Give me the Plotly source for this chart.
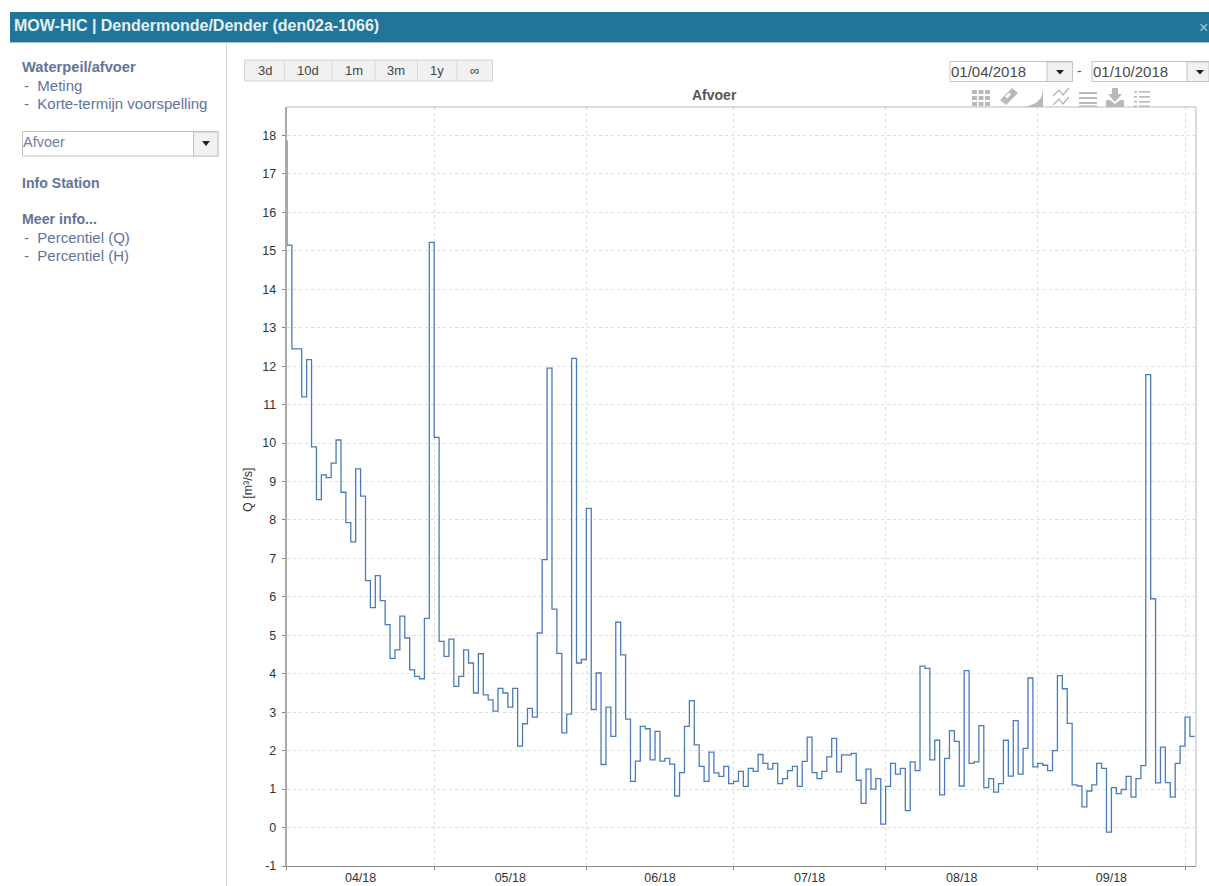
import pandas as pd
import plotly.graph_objects as go

W, H = 1209, 886
PX0, PX1, PY0, PY1 = 286.5, 1196.0, 107.0, 866.0

march = [17.85]
april = [15.15, 12.45, 12.45, 11.2, 12.17, 9.9, 8.53, 9.17, 9.1, 9.48, 10.08, 8.72, 7.93, 7.43, 9.33,
         8.62, 6.42, 5.72, 6.55, 5.9, 5.28, 4.4, 4.62, 5.5, 4.93, 4.1, 3.93, 3.87, 5.44, 15.22]
may = [10.15, 4.84, 4.45, 4.9, 3.67, 3.93, 4.62, 4.28, 3.5, 4.52, 3.45, 3.32, 3.03, 3.62, 3.5, 3.13,
       3.62, 2.12, 2.7, 3.1, 2.87, 5.06, 6.97, 11.95, 5.68, 4.53, 2.46, 2.95, 12.2, 4.28, 4.37]
june = [8.3, 3.07, 4.02, 1.64, 3.13, 2.37, 5.34, 4.49, 2.82, 1.2, 1.73, 2.63, 2.57, 1.76, 2.5, 1.73,
        1.8, 1.65, 0.82, 1.43, 2.63, 3.3, 2.15, 1.59, 1.2, 1.96, 1.42, 1.33, 1.59, 1.14]
july = [1.2, 1.46, 1.07, 1.54, 1.46, 1.9, 1.67, 1.52, 1.67, 1.14, 1.27, 1.48, 1.59, 1.07, 1.72, 2.35,
        1.43, 1.27, 1.46, 1.84, 2.32, 1.45, 1.89, 1.89, 1.93, 1.23, 0.63, 1.52, 1.0, 1.27, 0.09]
august = [1.07, 1.67, 1.39, 1.54, 0.44, 1.71, 1.48, 4.2, 4.14, 1.76, 2.27, 0.85, 1.8, 2.52, 2.24, 1.08,
          4.08, 1.67, 1.71, 2.65, 1.04, 1.27, 0.92, 1.14, 2.27, 1.34, 2.78, 1.39, 2.06, 3.89, 1.58]
september = [1.67, 1.62, 1.48, 2.0, 3.95, 3.61, 2.71, 1.11, 1.08, 0.54, 0.95, 1.11, 1.67, 1.54, -0.12,
             1.04, 0.88, 0.99, 1.33, 0.79, 1.27, 1.61, 11.78, 5.95, 1.16, 2.09, 1.17, 0.79, 1.67, 2.12]
october = [2.87, 2.37, 2.37]

discharge = march + april + may + june + july + august + september + october
dates = pd.date_range("2018-03-31", periods=len(discharge), freq="D")

y_tick_values = [-1, 0, 1, 2, 3, 4, 5, 6, 7, 8, 9, 10, 11, 12, 13, 14, 15, 16, 17, 18]
y_tick_labels = ["-1", "0", "1", "2", "3", "4", "5", "6", "7", "8", "9", "10", "11", "12", "13", "14", "15", "16", "17", "18"]

range_buttons = ["3d", "10d", "1m", "3m", "1y", "∞"]
side_bold = ["Waterpeil/afvoer", "Info Station", "Meer info..."]
side_links = ["-  Meting", "-  Korte-termijn voorspelling", "-  Percentiel (Q)", "-  Percentiel (H)"]

def fx(p): return p / W
def fy(p): return 1 - p / H

shapes, notes = [], []

def rect(x0, y0, x1, y1, fill=None, line=None, lw=1, layer="below"):
    shapes.append(dict(type="rect", xref="paper", yref="paper", x0=fx(x0), x1=fx(x1), y0=fy(y0), y1=fy(y1),
                       fillcolor=fill or "rgba(0,0,0,0)", line=dict(color=line or "rgba(0,0,0,0)", width=lw if line else 0), layer=layer))

def seg(x0, y0, x1, y1, color, lw=1, layer="below"):
    shapes.append(dict(type="line", xref="paper", yref="paper", x0=fx(x0), x1=fx(x1), y0=fy(y0), y1=fy(y1),
                       line=dict(color=color, width=lw), layer=layer))

def poly(points, fill):
    d = "M " + " L ".join(f"{fx(x):.5f},{fy(y):.5f}" for x, y in points) + " Z"
    shapes.append(dict(type="path", xref="paper", yref="paper", path=d, fillcolor=fill, line=dict(width=0), layer="below"))

def text(x, y, s, size=12, color="#5d6f95", bold=False, anchor="left", angle=0):
    body = f"<b>{s}</b>" if bold else s
    notes.append(dict(xref="paper", yref="paper", x=fx(x), y=fy(y), text=body, showarrow=False, xanchor=anchor, yanchor="middle",
                      textangle=angle, font=dict(family="Liberation Sans", size=size, color=color)))

# header
rect(10, 12, W, 42, fill="#217598")
seg(10, 42.5, W, 42.5, "#a9c4d2", 1)
text(12, 25.5, "MOW-HIC | Dendermonde/Dender (den02a-1066)", size=16, color="#e6eff4", bold=True)
text(1203, 28, "×", size=16, color="#a6c8d6", anchor="center")
seg(226.5, 43, 226.5, H, "#d5d5d5", 1)

# side panel
SIDE = "#62749a"
text(20, 66.5, side_bold[0], size=14.7, color=SIDE, bold=True)
text(22, 85, side_links[0], size=15, color=SIDE)
text(22, 103, side_links[1], size=15, color=SIDE)
text(20, 183, side_bold[1], size=14.1, color=SIDE, bold=True)
text(20, 219, side_bold[2], size=14.2, color=SIDE, bold=True)
text(22, 237, side_links[2], size=15, color=SIDE)
text(22, 255, side_links[3], size=15, color=SIDE)

# dropdown
rect(22.5, 131.5, 218, 156, fill="#ffffff", line="#c4c4c4")
rect(193.5, 132, 218, 156, fill="#f1f1f1", line="#c4c4c4")
poly([(202, 141), (210, 141), (206, 146)], "#222222")
text(21, 141.5, "Afvoer", size=14.5, color="#6d7fa0")

# range buttons
edges = [244.5, 284.5, 332, 375, 417.5, 457, 492.5]
rect(edges[0], 60, edges[-1], 81, fill="#f1f1f1", line="#d2d2d2")
for e in edges[1:-1]:
    seg(e, 60, e, 81, "#d8d8d8")
for i, b in enumerate(range_buttons):
    text((edges[i] + edges[i + 1]) / 2, 70.5, b, size=13, color="#444444", anchor="center")

# date inputs
for x0, bx, x1, label in ((950, 1047, 1072.5, "01/04/2018"), (1092, 1187, W, "01/10/2018")):
    rect(x0, 61.5, x1, 81.5, fill="#ffffff", line="#c4c4c4")
    rect(bx, 62, x1, 81.5, fill="#f1f1f1", line="#c4c4c4")
    poly([(bx + 9, 70), (bx + 17, 70), (bx + 13, 74.5)], "#222222")
    text(x0 - 1, 71.5, label, size=15, color="#4a4a4a")
text(1079, 71.5, "-", size=14, color="#555555", anchor="center")

# toolbar icons
ICON = "#b9b9b9"
for row in (90, 96, 102):
    for col in (972, 978.5, 985):
        rect(col, row, col + 5, row + 4, fill=ICON)
poly([(1000, 100), (1012, 88), (1018, 93), (1006, 105)], ICON)
poly([(1005, 96.5), (1009, 92.5), (1011, 94.5), (1007, 98.5)], "#ffffff")
poly([(1026, 107), (1036, 103), (1041, 98), (1043, 90), (1043, 107)], ICON)
for base in (94, 103):
    shapes.append(dict(type="path", xref="paper", yref="paper",
                       path=f"M {fx(1053):.5f},{fy(base+2):.5f} L {fx(1059):.5f},{fy(base-4):.5f} L {fx(1063):.5f},{fy(base+1):.5f} L {fx(1069):.5f},{fy(base-6):.5f}",
                       line=dict(color=ICON, width=1.4), layer="below"))
for row in (92, 97, 102):
    rect(1079, row, 1097, row + 2, fill=ICON)
rect(1079, 105.5, 1097, 107, fill=ICON)
poly([(1112, 88), (1118, 88), (1118, 94), (1122, 94), (1115, 102), (1108, 94), (1112, 94)], ICON)
poly([(1106, 100), (1110, 100), (1115, 104), (1120, 100), (1124, 100), (1124, 107), (1106, 107)], ICON)
for row in (91, 96, 101, 105.5):
    rect(1134, row, 1137, row + 1.6, fill=ICON)
    rect(1139, row, 1150, row + 1.6, fill=ICON)

text(714, 95, "Afvoer", size=14, color="#555555", bold=True, anchor="center")
text(248, 490, "Q [m³/s]", size=12.5, color="#333333", anchor="center", angle=-90)

GRID_DASH = "3px,3px"
fig = go.Figure(go.Scatter(x=dates, y=discharge, mode="lines", line=dict(color="#4b7cb8", width=1.3, shape="hv"),
                           hoverinfo="x+y", showlegend=False))
fig.update_layout(
    width=W, height=H, margin=dict(l=0, r=0, t=0, b=0), autosize=False,
    paper_bgcolor="#ffffff", plot_bgcolor="#ffffff", shapes=shapes, annotations=notes, showlegend=False,
    font=dict(family="Liberation Sans", size=12.5, color="#333333"),
    xaxis=dict(domain=[fx(PX0), fx(PX1)], type="date", range=["2018-03-31 21:36", "2018-10-03 05:45"], automargin=False,
               dtick="M1", tick0="2018-04-01", tickformat="%m/%y", ticklabelmode="period", ticks="outside", ticklen=3,
               ticklabelstandoff=-3, tickcolor="#888888", tickfont=dict(size=12.5, color="#333333"),
               showgrid=True, gridcolor="#dedede", griddash=GRID_DASH, gridwidth=1, zeroline=False,
               showline=True, linecolor="#8c8c8c", linewidth=1, anchor="y"),
    yaxis=dict(domain=[1 - PY1 / H, 1 - PY0 / H], range=[-1, 18.74], tickmode="array", tickvals=y_tick_values,
               ticktext=y_tick_labels, automargin=False, ticks="outside", ticklen=3, ticklabelstandoff=3,
               tickcolor="#888888", tickfont=dict(size=12.5, color="#333333"),
               showgrid=True, gridcolor="#dedede", griddash=GRID_DASH, gridwidth=1, zeroline=False,
               showline=True, linecolor="#aaaaaa", linewidth=1.5, anchor="x"),
)
# top and right frame of the plot area
fig.add_shape(type="line", xref="paper", yref="paper", x0=fx(PX0), x1=fx(PX1), y0=fy(PY0), y1=fy(PY0), line=dict(color="#bbbbbb", width=1))
fig.add_shape(type="line", xref="paper", yref="paper", x0=fx(PX1), x1=fx(PX1), y0=fy(PY0), y1=fy(PY1), line=dict(color="#bbbbbb", width=1))

fig.write_html("out.html", config={"displayModeBar": False},
               post_script="document.body.style.margin='0';document.body.style.overflow='hidden';")
